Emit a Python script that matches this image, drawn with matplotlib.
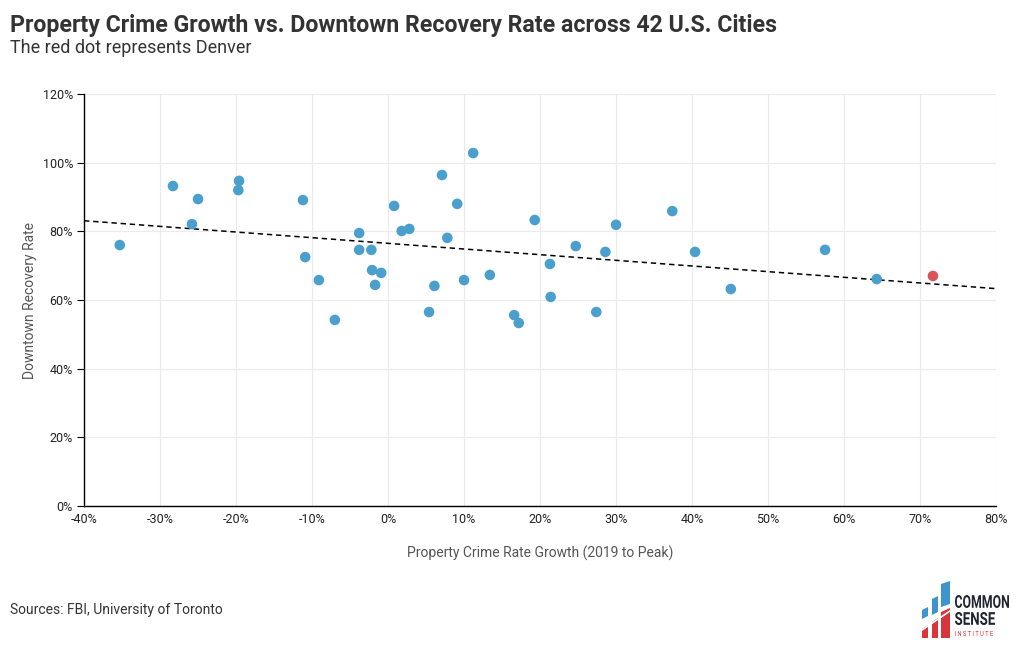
import matplotlib

matplotlib.use("Agg")
import matplotlib.pyplot as plt
import numpy as np
from matplotlib.font_manager import FontProperties
from matplotlib.patches import PathPatch, Polygon
from matplotlib.textpath import TextPath
from matplotlib.transforms import Affine2D
from matplotlib.ticker import FuncFormatter, MultipleLocator

plt.rcParams["font.family"] = ["Roboto", "DejaVu Sans"]

# property crime rate growth (%), downtown recovery rate (%)
crime_growth = [
    -35.3, -28.3, -25.0, -25.8, -19.6, -19.7, -11.2, -10.9, -9.1, -7.0,
    -3.8, -3.8, -2.2, -2.1, -1.7, -0.9, 0.8, 1.8, 2.8, 5.4,
    6.1, 7.1, 7.8, 9.1, 10.0, 11.2, 13.4, 16.6, 17.2, 19.3,
    21.3, 21.4, 24.7, 27.4, 28.6, 30.0, 37.4, 40.4, 45.1, 57.5,
    64.3,
]
recovery = [
    76.0, 93.2, 89.4, 82.1, 94.7, 92.0, 89.1, 72.5, 65.8, 54.2,
    79.5, 74.6, 74.6, 68.7, 64.4, 67.9, 87.4, 80.1, 80.7, 56.5,
    64.1, 96.4, 78.1, 88.0, 65.8, 102.8, 67.3, 55.6, 53.3, 83.3,
    70.5, 60.9, 75.7, 56.5, 74.0, 81.9, 85.9, 74.0, 63.2, 74.6,
    66.1,
]
denver_growth = 71.7
denver_recovery = 67.0

BLUE = "#4a9fcc"
RED = "#d9545a"
LOGO_RED = "#d7343c"
LOGO_BLUE = "#3d95cc"


def boxed_text(ax, s, x0, x1, ytop, ybot, color, weight="bold"):
    # squeeze a text path into a pixel box (axes y runs downward)
    tp = TextPath((0, 0), s, size=1, prop=FontProperties(family="Roboto", weight=weight))
    ext = tp.get_extents()
    sx = (x1 - x0) / ext.width
    sy = (ybot - ytop) / ext.height
    tr = Affine2D().translate(-ext.x0, -ext.y0).scale(sx, -sy).translate(x0, ybot)
    ax.add_patch(PathPatch(tr.transform_path(tp), color=color, lw=0))


fig = plt.figure(figsize=(10.2, 6.5), dpi=100)
ax = fig.add_axes([0.0824, 0.2215, 0.8941, 0.6339])

ax.scatter(crime_growth, recovery, s=58, color=BLUE, edgecolor="none", zorder=3)
ax.scatter([denver_growth], [denver_recovery], s=58, color=RED, edgecolor="none", zorder=3)

# linear trend across all 42 cities
all_x = np.array(crime_growth + [denver_growth])
all_y = np.array(recovery + [denver_recovery])
slope, icpt = np.polyfit(all_x, all_y, 1)
xs = np.array([-40, 80])
ax.plot(xs, slope * xs + icpt, color="black", linestyle=(0, (3.5, 2.5)), linewidth=1.1, zorder=2)

ax.set_xlim(-40, 80)
ax.set_ylim(0, 120)
ax.xaxis.set_major_locator(MultipleLocator(10))
ax.yaxis.set_major_locator(MultipleLocator(20))
pct = FuncFormatter(lambda v, _: f"{v:.0f}%")
ax.xaxis.set_major_formatter(pct)
ax.yaxis.set_major_formatter(pct)
ax.grid(True, color="#ebebeb", linewidth=0.8)
ax.set_axisbelow(True)
for side in ("top", "right"):
    ax.spines[side].set_visible(False)
for side in ("left", "bottom"):
    ax.spines[side].set_color("black")
    ax.spines[side].set_linewidth(1.0)
ax.tick_params(axis="y", length=5, width=0.8, labelsize=9, colors="black", pad=3)
ax.tick_params(axis="x", length=0, labelsize=9, colors="black", pad=5)
for lbl in ax.get_xticklabels() + ax.get_yticklabels():
    lbl.set_color("#222222")

ax.set_xlabel("Property Crime Rate Growth (2019 to Peak)", fontsize=10, color="#555555", labelpad=14)
ax.set_ylabel("Downtown Recovery Rate", fontsize=10, color="#555555", labelpad=4)

fig.text(0.0098, 0.961, "Property Crime Growth vs. Downtown Recovery Rate across 42 U.S. Cities",
         fontsize=16.7, fontweight="bold", color="#333333", va="center")
fig.text(0.0098, 0.926, "The red dot represents Denver", fontsize=13, color="#333333", va="center")
fig.text(0.0098, 0.062, "Sources: FBI, University of Toronto", fontsize=10, color="#333333", va="center")

# Common Sense Institute logo (approximate), drawn in pixel units
lg = fig.add_axes([915 / 1020, 1 - 642 / 650, 100 / 1020, 68 / 650])
lg.set_xlim(915, 1015)
lg.set_ylim(642, 574)
lg.axis("off")
bars = [(922, 928, 607, 619, 627), (932, 938, 596, 615, 620), (941, 950, 581, 607, 610)]
for x0, x1, btop, bbot, rtop in bars:
    lg.add_patch(Polygon([[x0, btop + 3], [x1, btop], [x1, bbot - 3], [x0, bbot]], color=LOGO_BLUE, lw=0))
    lg.add_patch(Polygon([[x0, rtop + 2], [x1, rtop - 2], [x1, 638], [x0, 638]], color=LOGO_RED, lw=0))
lg.plot([922, 950], [630, 611], color="white", linewidth=1.2)
boxed_text(lg, "COMMON", 955, 1009, 595, 608, "#1e2430")
boxed_text(lg, "SENSE", 955, 995, 612, 625, "#1e2430")
boxed_text(lg, "I N S T I T U T E", 955, 993, 631, 636, LOGO_RED, weight="normal")

fig.savefig("out.png", dpi=100)
